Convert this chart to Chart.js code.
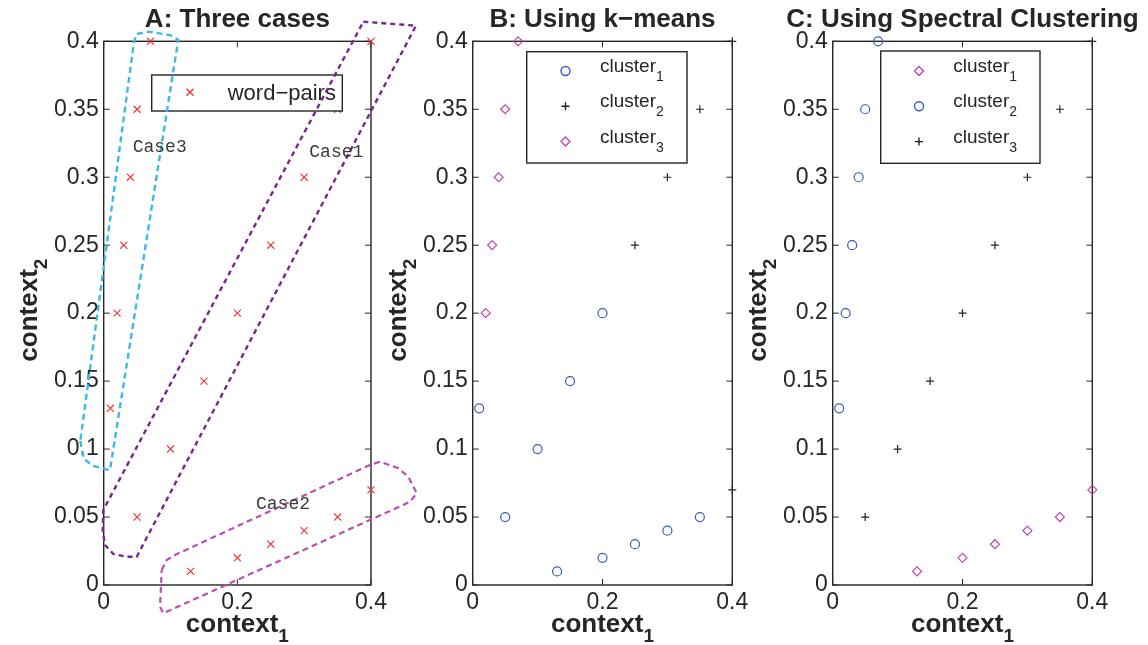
<!DOCTYPE html>
<html>
<head>
<meta charset="utf-8">
<script src="https://cdn.jsdelivr.net/npm/chart.js@4/dist/chart.umd.min.js"></script>
<style>
  html, body { margin: 0; padding: 0; background: #fff; }
  #wrap { position: relative; width: 1148px; height: 645px; overflow: hidden; }
  #wrap canvas { position: absolute; left: 0; top: 0; }
</style>
</head>
<body>
<div id="wrap">
  <canvas id="panel-a" width="1148" height="645"></canvas>
  <canvas id="panel-b" width="1148" height="645"></canvas>
  <canvas id="panel-c" width="1148" height="645"></canvas>
</div>
<script>
// word pairs: coordinates in the two contexts
const context1 = [0.05, 0.10, 0.15, 0.20, 0.25, 0.30, 0.35, 0.40,
                  0.13, 0.20, 0.25, 0.30, 0.35, 0.40,
                  0.01, 0.02, 0.03, 0.04, 0.05, 0.07];
const context2 = [0.05, 0.10, 0.15, 0.20, 0.25, 0.30, 0.35, 0.40,
                  0.01, 0.02, 0.03, 0.04, 0.05, 0.07,
                  0.13, 0.20, 0.25, 0.30, 0.35, 0.40];

// cluster index of each pair
const kmeansCluster   = [1, 1, 1, 1, 2, 2, 2, 2, 1, 1, 1, 1, 1, 2, 1, 3, 3, 3, 3, 3];
const spectralCluster = [3, 3, 3, 3, 3, 3, 3, 3, 1, 1, 1, 1, 1, 1, 2, 2, 2, 2, 2, 2];

// hand-drawn outlines around the three cases (context1, context2)
const case1Outline = [[0.3885, 0.4144], [0.4673, 0.4115], [0.0494, 0.0208], [0.0344, 0.0208],
                      [0.0144, 0.0228], [0.0019, 0.0294], [-0.0015, 0.0405], [-0.0006, 0.0552],
                      [0.3885, 0.4144]];
const case2Outline = [[0.0868, 0.011], [0.0943, 0.0184], [0.1067, 0.0221], [0.3985, 0.0883],
                      [0.4135, 0.0907], [0.4409, 0.0859], [0.4558, 0.0797], [0.4684, 0.0675],
                      [0.4584, 0.0613], [0.4483, 0.0589], [0.0892, -0.0208], [0.0843, -0.016],
                      [0.0868, 0.011]];
const case3Outline = [[-0.035, 0.106], [-0.03, 0.093], [-0.016, 0.0876], [0.004, 0.0851],
                      [0.0094, 0.0846], [0.1116, 0.401], [0.099, 0.4046], [0.067, 0.4071],
                      [0.049, 0.4054], [0.0453, 0.3995], [-0.035, 0.106]];

const xTicks = [0, 0.2, 0.4];
const yTicks = [0, 0.05, 0.1, 0.15, 0.2, 0.25, 0.3, 0.35, 0.4];

const FONT = '"Liberation Sans", Arial, Helvetica, sans-serif';
const MONO = '"Liberation Mono", "Courier New", monospace';
const INK = '#262626';
const RED = '#f03a3a';
const BLUE = '#3b5bc0';
const PINK = '#c346a9';
const PLUS = '#222222';
const TICK = 6;

function fmtTick(v) {
  return String(Number(Number(v).toFixed(2)));
}

function pairsWhere(labels, k) {
  const out = [];
  labels.forEach((c, i) => { if (c === k) out.push({ x: context1[i], y: context2[i] }); });
  return out;
}

function markers(data, style, color, radius) {
  return {
    data: data,
    pointStyle: style,
    pointRadius: radius,
    pointBorderColor: color,
    pointBackgroundColor: 'rgba(0,0,0,0)',
    pointBorderWidth: 1.2,
    showLine: false,
    clip: false,
  };
}

function outline(pairs, color, dash, width) {
  return {
    outline: true,
    data: pairs.map(p => ({ x: p[0], y: p[1] })),
    showLine: true,
    borderColor: color,
    borderDash: dash,
    borderWidth: width,
    pointRadius: 0,
    fill: false,
    tension: 0,
    clip: false,
  };
}

// text with a subscript; align 'center' or 'left'
function subText(ctx, main, sub, x, y, mainFont, subFont, drop, align) {
  ctx.font = mainFont;
  const mw = ctx.measureText(main).width;
  ctx.font = subFont;
  const sw = ctx.measureText(sub).width;
  const x0 = align === 'center' ? x - (mw + sw) / 2 : x;
  ctx.textAlign = 'left';
  ctx.textBaseline = 'alphabetic';
  ctx.font = mainFont;
  ctx.fillText(main, x0, y);
  if (sub) {
    ctx.font = subFont;
    ctx.fillText(sub, x0 + mw, y + drop);
  }
}

function drawFrame(chart) {
  const { ctx, chartArea: a, scales } = chart;
  ctx.save();
  ctx.strokeStyle = INK;
  ctx.lineWidth = 1.4;
  ctx.strokeRect(a.left, a.top, a.width, a.height);
  ctx.beginPath();
  xTicks.forEach(v => {
    const px = scales.x.getPixelForValue(v);
    ctx.moveTo(px, a.bottom); ctx.lineTo(px, a.bottom - TICK);
    ctx.moveTo(px, a.top); ctx.lineTo(px, a.top + TICK);
  });
  yTicks.forEach(v => {
    const py = scales.y.getPixelForValue(v);
    ctx.moveTo(a.left, py); ctx.lineTo(a.left + TICK, py);
    ctx.moveTo(a.right, py); ctx.lineTo(a.right - TICK, py);
  });
  ctx.lineWidth = 1;
  ctx.stroke();
  ctx.restore();
}

function drawLegend(chart, lg) {
  const { ctx, chartArea: a } = chart;
  const left = a.left + lg.dx;
  const top = a.top + lg.dy;
  ctx.save();
  ctx.fillStyle = '#fff';
  ctx.fillRect(left, top, lg.w, lg.h);
  ctx.strokeStyle = INK;
  ctx.lineWidth = 1.4;
  ctx.strokeRect(left, top, lg.w, lg.h);
  lg.items.forEach((it, i) => {
    const cy = top + lg.row0 + i * lg.rowGap;
    ctx.fillStyle = '#fff';
    ctx.strokeStyle = it.color;
    Chart.helpers.drawPoint(ctx, { pointStyle: it.style, radius: it.radius, rotation: 0, borderWidth: 1.2 },
      left + lg.markerX, cy);
    ctx.fillStyle = INK;
    subText(ctx, it.label, it.sub, left + lg.textX, cy + lg.baseline,
      lg.font + 'px ' + FONT, '14px ' + FONT, 9, 'left');
  });
  ctx.restore();
}

function drawTitles(chart, title) {
  const { ctx, chartArea: a } = chart;
  const cx = (a.left + a.right) / 2;
  const cy = (a.top + a.bottom) / 2;
  ctx.save();
  ctx.fillStyle = INK;
  ctx.textAlign = 'center';
  ctx.textBaseline = 'alphabetic';
  ctx.font = 'bold 26px ' + FONT;
  ctx.fillText(title, cx, a.top - 14.6);
  subText(ctx, 'context', '1', cx, a.bottom + 46.7, 'bold 26px ' + FONT, 'bold 19px ' + FONT, 10, 'center');
  ctx.translate(a.left - 67, cy - 3);
  ctx.rotate(-Math.PI / 2);
  subText(ctx, 'context', '2', 0, 0, 'bold 26px ' + FONT, 'bold 19px ' + FONT, 10, 'center');
  ctx.restore();
}

function drawNotes(chart, notes) {
  const { ctx, scales } = chart;
  ctx.save();
  ctx.fillStyle = '#3a3a3a';
  ctx.font = '18px ' + MONO;
  ctx.textAlign = 'left';
  ctx.textBaseline = 'alphabetic';
  notes.forEach(n => {
    ctx.fillText(n.text, scales.x.getPixelForValue(n.x), scales.y.getPixelForValue(n.y));
  });
  ctx.restore();
}

function decor(cfg) {
  return {
    id: 'panelDecor',
    beforeDatasetsDraw(chart) { drawFrame(chart); },
    afterDatasetDraw(chart, args) {
      if (args.index === cfg.legendAfter) drawLegend(chart, cfg.legend);
    },
    afterDraw(chart) {
      drawTitles(chart, cfg.title);
      if (cfg.notes) drawNotes(chart, cfg.notes);
    },
  };
}

function axis(ticks, min, max, isY) {
  return {
    type: 'linear',
    min: min,
    max: max,
    afterBuildTicks: s => { s.ticks = ticks.map(v => ({ value: v })); },
    afterFit: s => { if (isY) s.width = 100; else s.height = 40; },
    grid: { display: false, drawTicks: false },
    border: { display: false },
    ticks: {
      padding: isY ? 5 : 4,
      color: INK,
      font: { family: FONT, size: 23 },
      callback: v => fmtTick(v),
    },
  };
}

function makePanel(id, area, datasets, cfg) {
  const W = 1148, H = 645;
  return new Chart(document.getElementById(id), {
    type: 'scatter',
    data: { datasets: datasets },
    options: {
      responsive: false,
      animation: false,
      events: [],
      layout: {
        padding: { left: area.left - 100, right: W - area.right, top: area.top, bottom: H - area.bottom - 40 },
      },
      plugins: { legend: { display: false }, tooltip: { enabled: false } },
      scales: { x: axis(xTicks, 0, 0.4, false), y: axis(yTicks, 0, 0.4, true) },
    },
    plugins: [decor(cfg)],
  });
}

const allPairs = context1.map((x, i) => ({ x: x, y: context2[i] }));

// A: the three cases
makePanel('panel-a', { left: 103.7, right: 371, top: 41.3, bottom: 585 }, [
  outline(case1Outline, '#7a2590', [5, 4], 2.4),
  outline(case2Outline, '#bb4eb0', [6, 4], 2.2),
  outline(case3Outline, '#3db8ea', [6, 4], 2.4),
  markers(allPairs, 'crossRot', RED, 5),
], {
  title: 'A: Three cases',
  legendAfter: 3,
  legend: {
    dx: 48, dy: 33.7, w: 190.6, h: 36, markerX: 38.3, textX: 76, row0: 17.3, rowGap: 0,
    baseline: 7.5, font: 22,
    items: [{ label: 'word\u2212pairs', sub: '', style: 'crossRot', color: RED, radius: 5 }],
  },
  notes: [
    { text: 'Case3', x: 0.0434, y: 0.3188 },
    { text: 'Case1', x: 0.3077, y: 0.3146 },
    { text: 'Case2', x: 0.2279, y: 0.0559 },
  ],
});

// B: k-means
makePanel('panel-b', { left: 472.7, right: 732.3, top: 41.3, bottom: 585 }, [
  markers(pairsWhere(kmeansCluster, 1), 'circle', BLUE, 4.5),
  markers(pairsWhere(kmeansCluster, 2), 'cross', PLUS, 4),
  markers(pairsWhere(kmeansCluster, 3), 'rectRot', PINK, 4.5),
], {
  title: 'B: Using k\u2212means',
  legendAfter: 0,
  legend: {
    dx: 54, dy: 10.4, w: 160.3, h: 111.3, markerX: 38.8, textX: 73.3, row0: 19.3, rowGap: 35.3,
    baseline: 1, font: 19,
    items: [
      { label: 'cluster', sub: '1', style: 'circle', color: BLUE, radius: 4.5 },
      { label: 'cluster', sub: '2', style: 'cross', color: PLUS, radius: 4 },
      { label: 'cluster', sub: '3', style: 'rectRot', color: PINK, radius: 4.5 },
    ],
  },
});

// C: spectral clustering
makePanel('panel-c', { left: 832.7, right: 1092.3, top: 41.3, bottom: 585 }, [
  markers(pairsWhere(spectralCluster, 1), 'rectRot', PINK, 4.5),
  markers(pairsWhere(spectralCluster, 2), 'circle', BLUE, 4.5),
  markers(pairsWhere(spectralCluster, 3), 'cross', PLUS, 4),
], {
  title: 'C: Using Spectral Clustering',
  legendAfter: 0,
  legend: {
    dx: 48, dy: 9.7, w: 159.3, h: 112.3, markerX: 38.3, textX: 72.6, row0: 20, rowGap: 35.3,
    baseline: 1, font: 19,
    items: [
      { label: 'cluster', sub: '1', style: 'rectRot', color: PINK, radius: 4.5 },
      { label: 'cluster', sub: '2', style: 'circle', color: BLUE, radius: 4.5 },
      { label: 'cluster', sub: '3', style: 'cross', color: PLUS, radius: 4 },
    ],
  },
});
</script>
</body>
</html>
